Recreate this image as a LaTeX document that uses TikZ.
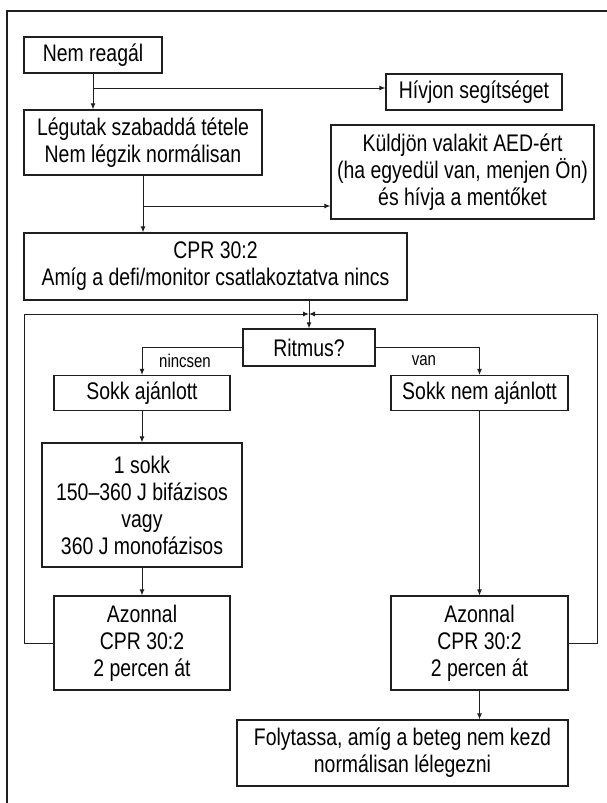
\documentclass[tikz,border=0pt]{standalone}
\usepackage{fontspec}
\setmainfont{Liberation Sans}[FakeStretch=0.81]
\usetikzlibrary{arrows.meta}
\begin{document}
\begin{tikzpicture}[x=1pt,y=-1pt,
  box/.style={draw=black!88, line width=1.2pt, inner sep=0pt, align=center,
    font=\fontsize{24}{27}\selectfont},
  lbl/.style={inner sep=0pt, font=\fontsize{18.5}{20}\selectfont},
  conn/.style={draw=black!88, line width=1pt},
  arr/.style={conn, -{Latex[length=6pt,width=5pt]}}]
\useasboundingbox (0,0) rectangle (607,803);
% outer frame (cropped)
\coordinate (FTR) at (607,11);
\coordinate (FTL) at (7,11);
\coordinate (FBL) at (7,803);
\draw[conn, line width=1.2pt] (FTR) -- (FTL) -- (FBL);

\node[box, minimum width=138, minimum height=36] (nem) at (93,55) {Nem reagál};
\node[box, minimum width=176, minimum height=36] (hiv) at (474,92) {Hívjon segítséget};
\node[box, minimum width=238, minimum height=65] (leg) at (143,142.5) {Légutak szabaddá tétele\\Nem légzik normálisan};
\node[box, minimum width=263, minimum height=94] (kul) at (462.5,172) {Küldjön valakit AED-ért\\(ha egyedül van, menjen Ön)\\és hívja a mentőket};
\node[box, minimum width=383, minimum height=67] (cpr) at (215.5,266.5) {CPR 30:2\\Amíg a defi/monitor csatlakoztatva nincs};
\node[box, minimum width=132, minimum height=37] (rit) at (309,347.5) {Ritmus?};
\node[box, minimum width=176, minimum height=35] (sa) at (142,393) {Sokk ajánlott};
\node[box, minimum width=177, minimum height=35] (sna) at (479.5,393) {Sokk nem ajánlott};
\node[box, minimum width=200, minimum height=124] (egy) at (142,505) {1 sokk\\150–360 J bifázisos\\vagy\\360 J monofázisos};
\node[box, minimum width=176, minimum height=94] (azl) at (142,643) {Azonnal\\CPR 30:2\\2 percen át};
\node[box, minimum width=177, minimum height=94] (azr) at (479.5,643) {Azonnal\\CPR 30:2\\2 percen át};
\node[box, minimum width=331, minimum height=66] (fol) at (402.5,753) {Folytassa, amíg a beteg nem kezd\\normálisan lélegezni};

\node[lbl] (nin) at (185,361) {nincsen};
\node[lbl] (van) at (424,361) {van};

% connectors
\coordinate (B1) at (93,88);
\draw[arr] (nem.south -| B1) -- (leg.north -| B1);
\draw[arr] (B1) -- (B1 -| hiv.west);
\coordinate (B2) at (143,206);
\draw[arr] (leg.south -| B2) -- (cpr.north -| B2);
\draw[arr] (B2) -- (B2 -| kul.west);
\coordinate (J) at (309,314);
\draw[arr] (cpr.south -| J) -- (rit.north -| J);
\coordinate (LL) at (24,643);
\coordinate (LT) at (24,314);
\coordinate (RR) at (597,643);
\coordinate (RT) at (597,314);
\draw[arr] (azl.west) -- (LL) -- (LT) -- (J);
\draw[arr] (azr.east) -- (RR) -- (RT) -- (J);
\draw[arr] (rit.west) -| (sa.north);
\draw[arr] (rit.east) -| (sna.north);
\draw[arr] (sa.south) -- (egy.north);
\draw[arr] (egy.south) -- (azl.north);
\draw[arr] (sna.south) -- (azr.north);
\draw[arr] (azr.south) -- (azr.south |- fol.north);
\end{tikzpicture}
\end{document}
